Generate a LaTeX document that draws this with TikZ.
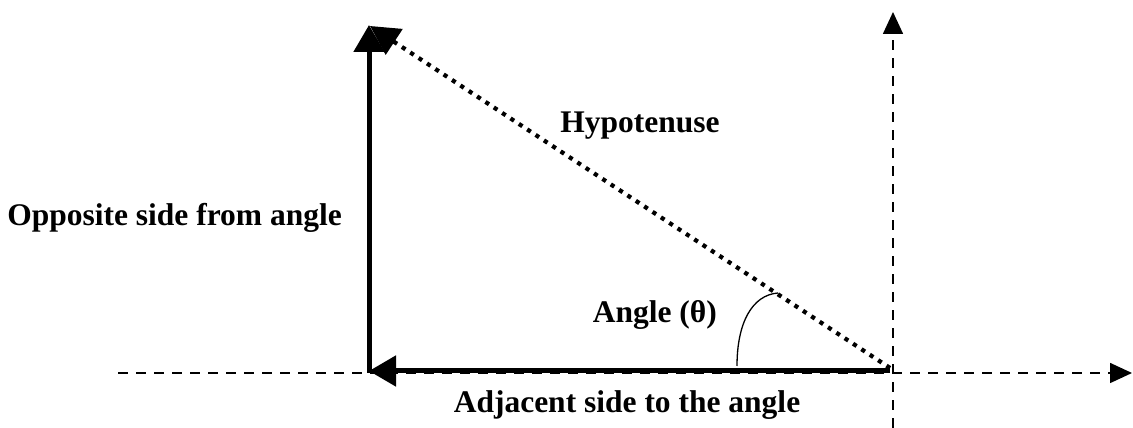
\documentclass[tikz,border=0pt]{standalone}
\usepackage{fontspec}
\setmainfont{Liberation Serif}
\usetikzlibrary{arrows.meta}
\usetikzlibrary{positioning}

\tikzset{
    axis/.style={line width=1.6pt, dash pattern=on 10pt off 8pt,
                 -{Triangle[length=22pt,width=20pt]}},
    side/.style={line width=5pt, -{Triangle[length=27pt,width=30pt]}},
    hypo/.style={line width=4.2pt, dash pattern=on 4.2pt off 5.8pt,
                 -{Triangle[length=29pt,width=30pt]}},
    lbl/.style={font=\fontsize{31.5pt}{36pt}\selectfont\bfseries, inner sep=0pt}
}

\begin{document}
\begin{tikzpicture}[x=1pt, y=1pt]
\useasboundingbox (0,0) rectangle (1133,428);

% axes
\coordinate (O) at (893,55);
\coordinate (xl) at (118,55);
\coordinate (xr) at (1132,55);
\coordinate (yb) at (893,0);
\coordinate (yt) at (893,416);
\draw[axis] (xl) -- (xr);
\draw[axis] (yb) -- (yt);

% triangle sides
\coordinate (A) at (890,57);
\coordinate (B) at (369,57);
\coordinate (C) at (369,55);
\coordinate (D) at (369,403);
\coordinate (E) at (890,60);
\coordinate (F) at (370,402);
\draw[side] (A) -- (B);
\draw[side] (C) -- (D);
\draw[hypo] (E) -- (F);

% angle arc
\coordinate (a1) at (737,62);
\coordinate (a2) at (778,135);
\draw[line width=1.3pt] (a1) .. controls (737,105) and (752,133) .. (a2);

% labels
\node[lbl, anchor=base] (hyp) at (640,295) {Hypotenuse};
\node[lbl, anchor=base east] (opp) at (342,202) {Opposite side from angle};
\node[lbl, anchor=base east] (ang) at (717,105) {Angle (θ)};
\node[lbl, anchor=base] (adj) at (627,15) {Adjacent side to the angle};
\end{tikzpicture}
\end{document}
